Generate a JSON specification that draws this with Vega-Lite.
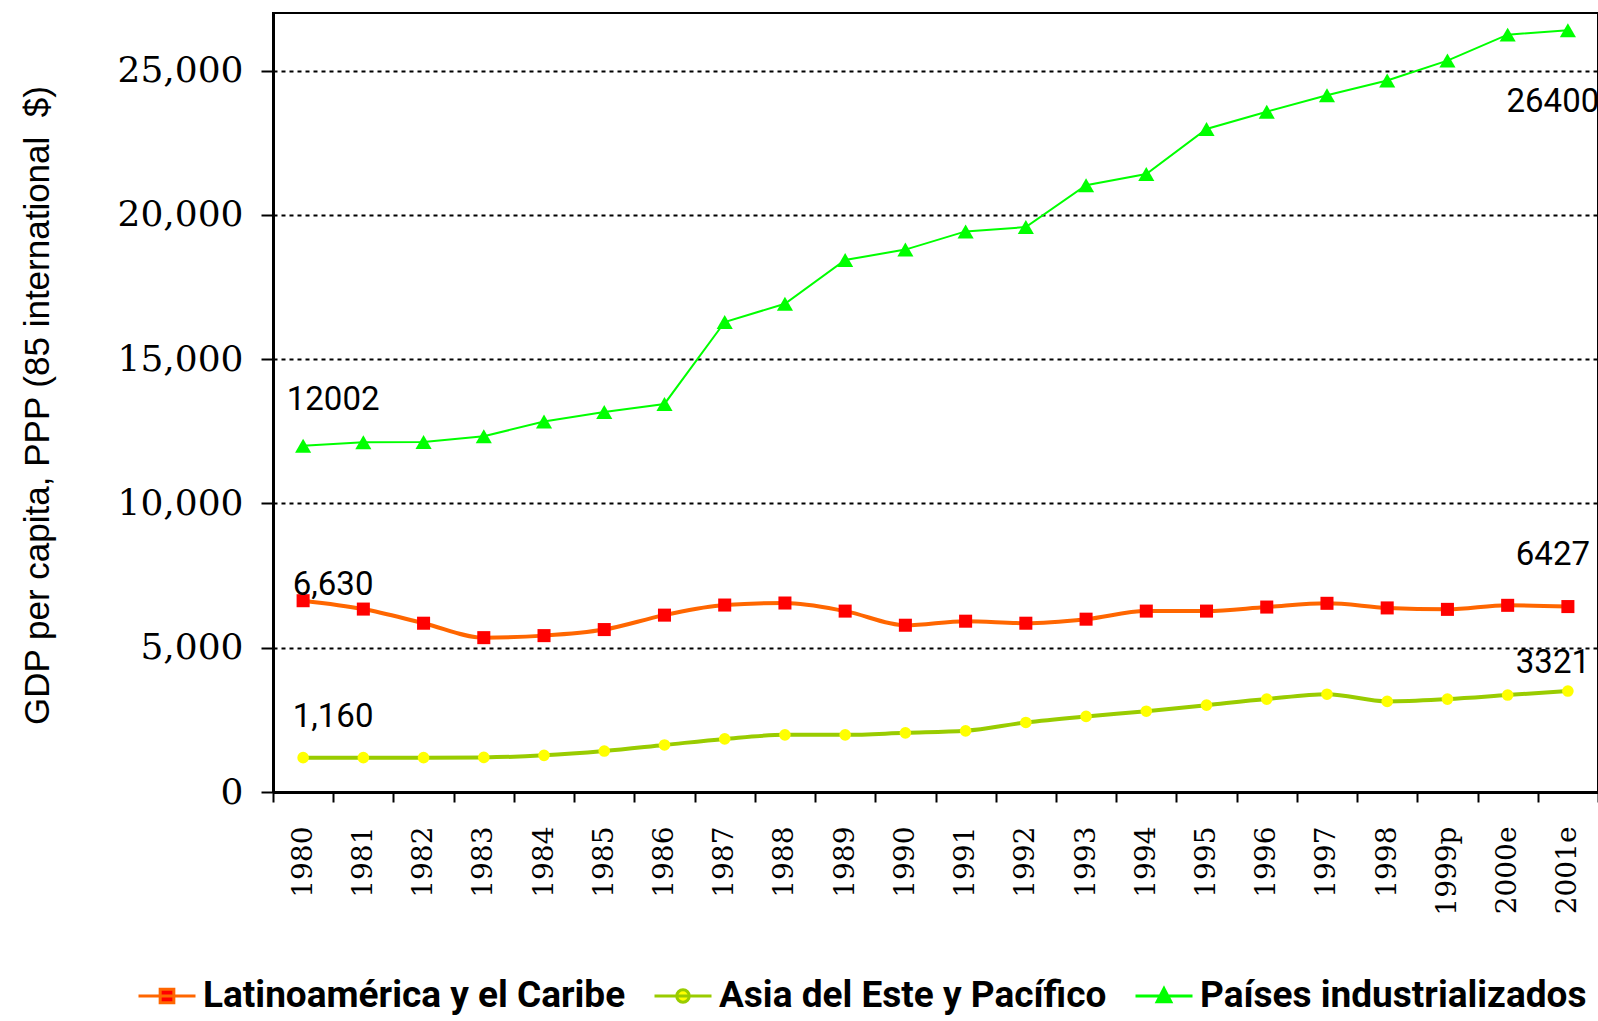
{
  "$schema": "https://vega.github.io/schema/vega-lite/v6.json",
  "width": 1325,
  "height": 779,
  "autosize": {"type": "none"},
  "padding": {"left": 273, "top": 13, "right": 0, "bottom": 229},
  "background": "white",
  "config": {
    "view": {"stroke": "black", "strokeWidth": 2},
    "axis": {"labelColor": "black", "tickColor": "black", "domainColor": "black"}
  },
  "datasets": {
    "series": [
      {"year": "1980", "series": "Latinoamérica y el Caribe", "value": 6630},
      {"year": "1981", "series": "Latinoamérica y el Caribe", "value": 6340},
      {"year": "1982", "series": "Latinoamérica y el Caribe", "value": 5850},
      {"year": "1983", "series": "Latinoamérica y el Caribe", "value": 5350},
      {"year": "1984", "series": "Latinoamérica y el Caribe", "value": 5420},
      {"year": "1985", "series": "Latinoamérica y el Caribe", "value": 5630},
      {"year": "1986", "series": "Latinoamérica y el Caribe", "value": 6130},
      {"year": "1987", "series": "Latinoamérica y el Caribe", "value": 6480},
      {"year": "1988", "series": "Latinoamérica y el Caribe", "value": 6550},
      {"year": "1989", "series": "Latinoamérica y el Caribe", "value": 6270},
      {"year": "1990", "series": "Latinoamérica y el Caribe", "value": 5780},
      {"year": "1991", "series": "Latinoamérica y el Caribe", "value": 5920},
      {"year": "1992", "series": "Latinoamérica y el Caribe", "value": 5850},
      {"year": "1993", "series": "Latinoamérica y el Caribe", "value": 5990},
      {"year": "1994", "series": "Latinoamérica y el Caribe", "value": 6270},
      {"year": "1995", "series": "Latinoamérica y el Caribe", "value": 6270},
      {"year": "1996", "series": "Latinoamérica y el Caribe", "value": 6410},
      {"year": "1997", "series": "Latinoamérica y el Caribe", "value": 6540},
      {"year": "1998", "series": "Latinoamérica y el Caribe", "value": 6380},
      {"year": "1999p", "series": "Latinoamérica y el Caribe", "value": 6330},
      {"year": "2000e", "series": "Latinoamérica y el Caribe", "value": 6470},
      {"year": "2001e", "series": "Latinoamérica y el Caribe", "value": 6427},
      {"year": "1980", "series": "Asia del Este y Pacífico", "value": 1190},
      {"year": "1981", "series": "Asia del Este y Pacífico", "value": 1190},
      {"year": "1982", "series": "Asia del Este y Pacífico", "value": 1190},
      {"year": "1983", "series": "Asia del Este y Pacífico", "value": 1200},
      {"year": "1984", "series": "Asia del Este y Pacífico", "value": 1270},
      {"year": "1985", "series": "Asia del Este y Pacífico", "value": 1420},
      {"year": "1986", "series": "Asia del Este y Pacífico", "value": 1630},
      {"year": "1987", "series": "Asia del Este y Pacífico", "value": 1840},
      {"year": "1988", "series": "Asia del Este y Pacífico", "value": 1980},
      {"year": "1989", "series": "Asia del Este y Pacífico", "value": 1980},
      {"year": "1990", "series": "Asia del Este y Pacífico", "value": 2050},
      {"year": "1991", "series": "Asia del Este y Pacífico", "value": 2120},
      {"year": "1992", "series": "Asia del Este y Pacífico", "value": 2410},
      {"year": "1993", "series": "Asia del Este y Pacífico", "value": 2620},
      {"year": "1994", "series": "Asia del Este y Pacífico", "value": 2800},
      {"year": "1995", "series": "Asia del Este y Pacífico", "value": 3010},
      {"year": "1996", "series": "Asia del Este y Pacífico", "value": 3220},
      {"year": "1997", "series": "Asia del Este y Pacífico", "value": 3390},
      {"year": "1998", "series": "Asia del Este y Pacífico", "value": 3140},
      {"year": "1999p", "series": "Asia del Este y Pacífico", "value": 3220},
      {"year": "2000e", "series": "Asia del Este y Pacífico", "value": 3360},
      {"year": "2001e", "series": "Asia del Este y Pacífico", "value": 3500},
      {"year": "1980", "series": "Países industrializados", "value": 12002},
      {"year": "1981", "series": "Países industrializados", "value": 12120},
      {"year": "1982", "series": "Países industrializados", "value": 12130},
      {"year": "1983", "series": "Países industrializados", "value": 12330},
      {"year": "1984", "series": "Países industrializados", "value": 12840},
      {"year": "1985", "series": "Países industrializados", "value": 13170},
      {"year": "1986", "series": "Países industrializados", "value": 13450},
      {"year": "1987", "series": "Países industrializados", "value": 16290},
      {"year": "1988", "series": "Países industrializados", "value": 16920},
      {"year": "1989", "series": "Países industrializados", "value": 18440},
      {"year": "1990", "series": "Países industrializados", "value": 18800},
      {"year": "1991", "series": "Países industrializados", "value": 19430},
      {"year": "1992", "series": "Países industrializados", "value": 19580},
      {"year": "1993", "series": "Países industrializados", "value": 21030},
      {"year": "1994", "series": "Países industrializados", "value": 21420},
      {"year": "1995", "series": "Países industrializados", "value": 22980},
      {"year": "1996", "series": "Países industrializados", "value": 23580},
      {"year": "1997", "series": "Países industrializados", "value": 24150},
      {"year": "1998", "series": "Países industrializados", "value": 24660},
      {"year": "1999p", "series": "Países industrializados", "value": 25350},
      {"year": "2000e", "series": "Países industrializados", "value": 26250},
      {"year": "2001e", "series": "Países industrializados", "value": 26400}
    ],
    "notes": [
      {"year": "1980", "side": "left", "value": 13590, "label": "12002"},
      {"year": "1980", "side": "left", "value": 7180, "label": "6,630"},
      {"year": "1980", "side": "left", "value": 2600, "label": "1,160"},
      {"year": "2001e", "side": "right", "value": 23930, "label": "26400"},
      {"year": "2001e", "side": "right", "value": 8220, "label": "6427"},
      {"year": "2001e", "side": "right", "value": 4470, "label": "3321"}
    ]
  },
  "encoding": {
    "x": {
      "field": "year", "type": "ordinal",
      "scale": {"domain": ["1980","1981","1982","1983","1984","1985","1986","1987","1988","1989","1990","1991","1992","1993","1994","1995","1996","1997","1998","1999p","2000e","2001e"], "paddingInner": 0, "paddingOuter": 0},
      "axis": {
        "title": null, "labelAngle": 270, "labelFont": "DejaVu Serif", "labelFontSize": 28,
        "labelPadding": 24, "tickBand": "extent", "tickSize": 10, "tickWidth": 2,
        "domainWidth": 3, "grid": false, "labelOverlap": false
      }
    },
    "y": {
      "field": "value", "type": "quantitative",
      "scale": {"domain": [0, 27000], "nice": false, "zero": true},
      "axis": {
        "title": "GDP per capita, PPP (85 international\u00a0 $)",
        "titleFont": "Liberation Sans", "titleFontSize": 35, "titleFontWeight": "normal", "titleColor": "black",
        "titleAngle": 270, "titleX": -236, "titleY": 392, "titleAlign": "center", "titleBaseline": "middle",
        "values": [0, 5000, 10000, 15000, 20000, 25000], "format": ",.0f",
        "labelFont": "DejaVu Serif", "labelFontSize": 36, "labelPadding": 18,
        "tickSize": 12, "tickWidth": 2, "domainWidth": 3,
        "grid": true, "gridColor": "black", "gridDash": [4, 4], "gridWidth": 2
      }
    }
  },
  "layer": [
    {
      "data": {"name": "series"},
      "transform": [{"filter": "datum.series !== 'Países industrializados'"}],
      "mark": {"type": "line", "strokeWidth": 4, "interpolate": "monotone"},
      "encoding": {
        "stroke": {
          "field": "series", "type": "nominal",
          "scale": {"domain": ["Latinoamérica y el Caribe", "Asia del Este y Pacífico", "Países industrializados"], "range": ["#FF6600", "#99CC00", "#00FF00"]},
          "legend": {
            "orient": "none", "legendX": -136, "legendY": 953, "direction": "horizontal", "title": null,
            "labelFont": "Roboto", "labelFontWeight": "bold", "labelFontSize": 37, "labelColor": "black",
            "labelLimit": 900, "symbolSize": 3249, "symbolStrokeWidth": 3, "columnPadding": 22, "labelOffset": 6,
            "symbolType": "M-1,0H1M0,-0.26L0.24,0.2H-0.24Z",
            "encode": {"symbols": {"update": {
              "shape": {"signal": "datum.value === 'Latinoamérica y el Caribe' ? 'M-1,0H1M-0.24,-0.24H0.24V0.24H-0.24Z' : datum.value === 'Asia del Este y Pacífico' ? 'M-1,0H1M0.22,0A0.22,0.22,0,1,1,-0.22,0A0.22,0.22,0,1,1,0.22,0Z' : 'M-1,0H1M0,-0.26L0.24,0.2H-0.24Z'"},
              "size": {"value": 3249},
              "strokeWidth": {"value": 3},
              "fill": {"signal": "datum.value === 'Latinoamérica y el Caribe' ? '#FF0000' : datum.value === 'Asia del Este y Pacífico' ? '#FFFF00' : '#00FF00'"},
              "stroke": {"signal": "datum.value === 'Latinoamérica y el Caribe' ? '#FF6600' : datum.value === 'Asia del Este y Pacífico' ? '#99CC00' : '#00FF00'"},
              "opacity": {"value": 1}
            }}}
          }
        }
      }
    },
    {
      "data": {"name": "series"},
      "transform": [{"filter": "datum.series === 'Países industrializados'"}],
      "mark": {"type": "line", "strokeWidth": 2},
      "encoding": {
        "stroke": {
          "field": "series", "type": "nominal",
          "scale": {"domain": ["Latinoamérica y el Caribe", "Asia del Este y Pacífico", "Países industrializados"], "range": ["#FF6600", "#99CC00", "#00FF00"]},
          "legend": {
            "orient": "none", "legendX": -136, "legendY": 953, "direction": "horizontal", "title": null,
            "labelFont": "Roboto", "labelFontWeight": "bold", "labelFontSize": 37, "labelColor": "black",
            "labelLimit": 900, "symbolSize": 3249, "symbolStrokeWidth": 3, "columnPadding": 22, "labelOffset": 6,
            "symbolType": "M-1,0H1M0,-0.26L0.24,0.2H-0.24Z",
            "encode": {"symbols": {"update": {
              "shape": {"signal": "datum.value === 'Latinoamérica y el Caribe' ? 'M-1,0H1M-0.24,-0.24H0.24V0.24H-0.24Z' : datum.value === 'Asia del Este y Pacífico' ? 'M-1,0H1M0.22,0A0.22,0.22,0,1,1,-0.22,0A0.22,0.22,0,1,1,0.22,0Z' : 'M-1,0H1M0,-0.26L0.24,0.2H-0.24Z'"},
              "size": {"value": 3249},
              "strokeWidth": {"value": 3},
              "fill": {"signal": "datum.value === 'Latinoamérica y el Caribe' ? '#FF0000' : datum.value === 'Asia del Este y Pacífico' ? '#FFFF00' : '#00FF00'"},
              "stroke": {"signal": "datum.value === 'Latinoamérica y el Caribe' ? '#FF6600' : datum.value === 'Asia del Este y Pacífico' ? '#99CC00' : '#00FF00'"},
              "opacity": {"value": 1}
            }}}
          }
        }
      }
    },
    {
      "data": {"name": "series"},
      "transform": [{"filter": "datum.series === 'Latinoamérica y el Caribe'"}],
      "mark": {"type": "point", "filled": true, "opacity": 1, "shape": "square", "fill": "#FF0000", "size": 170, "strokeWidth": 0}
    },
    {
      "data": {"name": "series"},
      "transform": [{"filter": "datum.series === 'Asia del Este y Pacífico'"}],
      "mark": {"type": "point", "filled": true, "opacity": 1, "shape": "circle", "fill": "#FFFF00", "size": 135, "strokeWidth": 0}
    },
    {
      "data": {"name": "series"},
      "transform": [{"filter": "datum.series === 'Países industrializados'"}],
      "mark": {"type": "point", "filled": true, "opacity": 1, "shape": "triangle-up", "fill": "#00FF00", "size": 260, "strokeWidth": 0}
    },
    {
      "data": {"name": "notes"},
      "transform": [{"filter": "datum.side === 'left'"}],
      "mark": {"type": "text", "font": "Roboto", "fontSize": 33, "color": "black", "align": "center", "baseline": "middle", "dx": 30},
      "encoding": {"text": {"field": "label"}}
    },
    {
      "data": {"name": "notes"},
      "transform": [{"filter": "datum.side === 'right'"}],
      "mark": {"type": "text", "font": "Roboto", "fontSize": 33, "color": "black", "align": "center", "baseline": "middle", "dx": -15},
      "encoding": {"text": {"field": "label"}}
    }
  ]
}
